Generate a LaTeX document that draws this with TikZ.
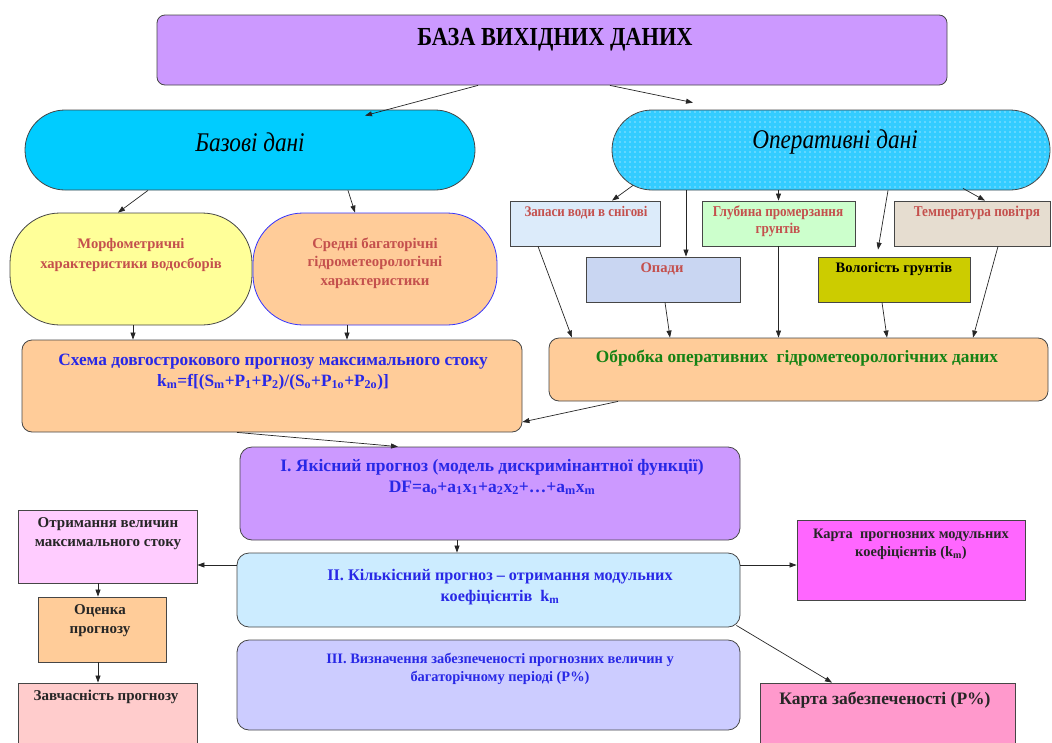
\documentclass[tikz,border=0pt]{standalone}
\usepackage{fontspec}
\setmainfont{Liberation Serif}
\newfontfamily\condf[FakeStretch=0.86]{Liberation Serif}
\newfontfamily\condg[FakeStretch=0.88]{Liberation Serif}
\usetikzlibrary{arrows.meta,calc,patterns.meta}
\definecolor{cTop}{HTML}{CC99FF}
\definecolor{cBaz}{HTML}{00CCFF}
\definecolor{cOper}{HTML}{33CCFF}
\definecolor{cYel}{HTML}{FFFF99}
\definecolor{cPeach}{HTML}{FFCC99}
\definecolor{cKilk}{HTML}{CCECFF}
\definecolor{cTret}{HTML}{CCCCFF}
\definecolor{cOtr}{HTML}{FFCCFF}
\definecolor{cZav}{HTML}{FFCCCC}
\definecolor{cK1}{HTML}{FF66FF}
\definecolor{cK2}{HTML}{FF99CC}
\definecolor{cGlub}{HTML}{CCFFCC}
\definecolor{cVol}{HTML}{CCCC00}
\definecolor{cZap}{HTML}{DCEBFA}
\definecolor{cOpad}{HTML}{C9D6F2}
\definecolor{cTemp}{HTML}{E6DDD0}
\definecolor{tRed}{RGB}{196,80,77}
\definecolor{tBlue}{RGB}{40,40,230}
\definecolor{tGreen}{RGB}{20,130,20}
\definecolor{bord}{RGB}{70,70,70}
\tikzset{
  box/.style={draw=bord, line width=0.8pt, inner sep=0pt},
  arr/.style={-{Triangle[length=7pt,width=5pt]}, line width=0.7pt, draw=black!85},
  txt/.style={align=center, inner sep=0pt, font=\bfseries},
}
\begin{document}
\begin{tikzpicture}[x=1pt,y=-1pt]
\useasboundingbox (0,0) rectangle (1052,742);
% boxes
\node[box, fill=cTop, rounded corners=8pt, minimum width=790pt, minimum height=70pt] (top) at (552,50) {};
\node[box, fill=cBaz, rounded corners=40pt, minimum width=450pt, minimum height=80pt] (bazovi) at (250,150) {};
\node[box, fill=cOper, rounded corners=40pt, minimum width=438pt, minimum height=80pt,
      postaction={pattern={Dots[distance=5pt,radius=0.6pt]}, pattern color=white}] (oper) at (831,150) {};
\node[box, fill=cYel, rounded corners=50pt, minimum width=242pt, minimum height=112pt] (morf) at (131,269) {};
\node[box, draw=blue!80, fill=cPeach, rounded corners=50pt, minimum width=244pt, minimum height=112pt] (seredni) at (375,269) {};
\node[box, fill=cPeach, rounded corners=10pt, minimum width=500pt, minimum height=92pt] (shema) at (272,386) {};
\node[box, fill=cPeach, rounded corners=10pt, minimum width=499pt, minimum height=63pt] (obrobka) at (798.5,369.5) {};
\node[box, fill=cZap, minimum width=150pt, minimum height=45pt] (zapasy) at (585,223.5) {};
\node[box, fill=cOpad, minimum width=154pt, minimum height=45pt] (opady) at (663,279.5) {};
\node[box, fill=cGlub, minimum width=153pt, minimum height=45pt] (glub) at (778.5,223.5) {};
\node[box, fill=cVol, minimum width=152pt, minimum height=45pt] (vol) at (894,279.5) {};
\node[box, fill=cTemp, minimum width=156pt, minimum height=45pt] (temp) at (972,223.5) {};
\node[box, fill=cTop, rounded corners=12pt, minimum width=500pt, minimum height=93pt] (yakisnyi) at (490,493.5) {};
\node[box, fill=cKilk, rounded corners=12pt, minimum width=503pt, minimum height=74pt] (kilk) at (488.5,590) {};
\node[box, fill=cTret, rounded corners=12pt, minimum width=503pt, minimum height=90pt] (tretiy) at (488.5,685) {};
\node[box, fill=cOtr, minimum width=179pt, minimum height=73pt] (otrym) at (107.5,546.5) {};
\node[box, fill=cPeach, minimum width=128pt, minimum height=65pt] (otsinka) at (102,629.5) {};
\node[box, fill=cZav, minimum width=179pt, minimum height=66pt] (zavch) at (107.5,716) {};
\node[box, fill=cK1, minimum width=228pt, minimum height=80pt] (karta1) at (911,560) {};
\node[box, fill=cK2, minimum width=255pt, minimum height=67pt] (karta2) at (887.5,716.5) {};
% texts
\node[txt, font=\condf\bfseries\fontsize{26}{28}\selectfont] (tTop) at (555,40) {БАЗА ВИХІДНИХ  ДАНИХ};
\node[txt, font=\condf\itshape\fontsize{27}{28}\selectfont] (tBaz) at (250,142) {Базові дані};
\node[txt, font=\condf\itshape\fontsize{27}{28}\selectfont] (tOper) at (835,142) {Оперативні дані};
\node[txt, text=tRed, font=\bfseries\fontsize{14.6}{20}\selectfont] (tMorf) at (131,255) {Морфометричні\\характеристики водосборів};
\node[txt, text=tRed, font=\bfseries\fontsize{14.8}{18.5}\selectfont] (tSer) at (375,263) {Средні багаторічні\\гідрометеорологічні\\характеристики};
\node[txt, text=tBlue, font=\bfseries\fontsize{17.3}{21}\selectfont] (tShema) at (273,372) {Схема довгострокового прогнозу максимального стоку\\k\textsubscript{m}=f[(S\textsubscript{m}+P\textsubscript{1}+P\textsubscript{2})/(S\textsubscript{o}+P\textsubscript{1o}+P\textsubscript{2o})]};
\node[txt, text=tGreen, font=\bfseries\fontsize{17.3}{18}\selectfont] (tObr) at (797,358) {Обробка оперативних\ \ гідрометеорологічних даних};
\node[txt, text=tRed, font=\condg\bfseries\fontsize{14.7}{16}\selectfont] (tZap) at (586,213) {Запаси води в снігові};
\node[txt, text=tRed, font=\bfseries\fontsize{14.6}{16}\selectfont] (tOpad) at (662,269) {Опади};
\node[txt, text=tRed, font=\condg\bfseries\fontsize{15}{17}\selectfont] (tGlub) at (778,221) {Глубина промерзання\\грунтів};
\node[txt, text=black, font=\bfseries\fontsize{14.5}{16}\selectfont] (tVol) at (894,269) {Вологість грунтів};
\node[txt, text=tRed, font=\condg\bfseries\fontsize{15}{16}\selectfont] (tTemp) at (977,213) {Температура повітря};
\node[txt, text=tBlue, font=\bfseries\fontsize{17.5}{21}\selectfont] (tYak) at (492,477) {І. Якісний прогноз (модель дискримінантної функції)\\DF=a\textsubscript{o}+a\textsubscript{1}x\textsubscript{1}+a\textsubscript{2}x\textsubscript{2}+…+a\textsubscript{m}x\textsubscript{m}};
\node[txt, text=tBlue, font=\bfseries\fontsize{16.2}{21}\selectfont] (tKilk) at (500,587) {ІІ. Кількісний прогноз – отримання модульних\\коефіцієнтів\ \ k\textsubscript{m}};
\node[txt, text=tBlue, font=\bfseries\fontsize{14.4}{18}\selectfont] (tTret) at (500,669) {ІІІ. Визначення забезпеченості прогнозних величин у\\багаторічному періоді (Р\%)};
\node[txt, text=black!85, font=\bfseries\fontsize{15}{19}\selectfont] (tOtr) at (108,534) {Отримання величин\\максимального стоку};
\node[txt, text=black!85, font=\bfseries\fontsize{15}{19}\selectfont] (tOts) at (100,621) {Оценка\\прогнозу};
\node[txt, text=black!85, font=\bfseries\fontsize{15}{16}\selectfont] (tZav) at (106,697) {Завчасність прогнозу};
\node[txt, text=black!85, font=\bfseries\fontsize{14.4}{18}\selectfont] (tK1) at (911,544) {Карта\ \ прогнозних модульних\\коефіцієнтів (k\textsubscript{m})};
\node[txt, text=black!85, font=\bfseries\fontsize{17.5}{18}\selectfont] (tK2) at (885,700) {Карта забезпеченості (Р\%)};
% connectors
\draw[arr] ($(top.south)+(-74,0)$) -- ($(bazovi.north)+(115,6)$);
\draw[arr] ($(top.south)+(58,0)$) -- ($(oper.north)+(-138,-7)$);
\draw[arr] ($(bazovi.south)+(-102,0)$) -- ($(morf.north)+(-13,0)$);
\draw[arr] ($(bazovi.south)+(98,0)$) -- ($(seredni.north)+(-20,0)$);
\draw[arr] ($(morf.south)+(2,0)$) -- ($(shema.north)+(-139,0)$);
\draw[arr] ($(seredni.south)+(-28,0)$) -- ($(shema.north)+(75,0)$);
\draw[arr] ($(oper.south)+(-198,-5)$) -- ($(zapasy.north)+(27,0)$);
\draw[arr] ($(oper.south)+(-145,0)$) -- ($(opady.north)+(23,0)$);
\draw[arr] (glub.north |- oper.south) -- (glub.north);
\draw[arr] ($(oper.south)+(57,0)$) -- ($(vol.north)+(-16,-7)$);
\draw[arr] ($(oper.south)+(132,-2)$) -- ($(temp.north)+(13,0)$);
\draw[arr] ($(zapasy.south)+(-47,0)$) -- ($(obrobka.north)+(-226.5,0)$);
\draw[arr] ($(opady.south)+(2,0)$) -- ($(obrobka.north)+(-128.5,0)$);
\draw[arr] (glub.south) -- ($(obrobka.north)+(-20,0)$);
\draw[arr] ($(vol.south)+(-12,0)$) -- ($(obrobka.north)+(88.5,0)$);
\draw[arr] ($(temp.south)+(26,0)$) -- ($(obrobka.north)+(174.5,0)$);
\draw[arr] ($(obrobka.south)+(-180.5,0)$) -- ($(shema.east)+(0,36)$);
\draw[arr] ($(shema.south)+(-35,0)$) -- ($(yakisnyi.north)+(-92,0)$);
\draw[arr] ($(yakisnyi.south)+(-33,0)$) -- ($(kilk.north)+(-31.5,0)$);
\draw[arr] ($(kilk.west)+(0,-25)$) -- ($(otrym.east)+(0,18.5)$);
\draw[arr] ($(kilk.east)+(0,-25)$) -- ($(karta1.west)+(0,5)$);
\draw[arr] ($(kilk.south east)+(-4,-2)$) -- ($(karta2.north)+(-55.5,0)$);
\draw[arr] ($(otrym.south)+(-9.5,0)$) -- ($(otsinka.north)+(-4,0)$);
\draw[arr] ($(otsinka.south)+(-4,0)$) -- ($(zavch.north)+(-9.5,0)$);
\end{tikzpicture}
\end{document}
